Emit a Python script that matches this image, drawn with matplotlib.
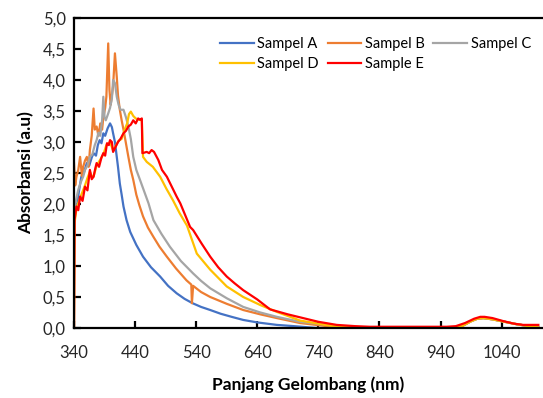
import matplotlib
matplotlib.use("Agg")
import matplotlib.pyplot as plt
from matplotlib.ticker import FuncFormatter

plt.rcParams['font.family'] = ['Lato', 'DejaVu Sans']

# wavelength (nm) / absorbance readings per sample
wl_a = [340, 344, 348, 352, 356, 361, 365, 369, 372, 376, 379, 382, 385, 388, 391, 395, 399, 402, 404, 407,
        410, 412, 415, 418, 421, 426, 432, 442, 453, 466, 481, 494, 508, 521, 534, 548, 563, 580, 598, 617,
        640, 672, 700, 737, 800, 900, 960, 975, 990, 1000, 1010, 1025, 1045, 1065, 1085, 1100]
abs_a = [1.95, 1.90, 2.20, 2.44, 2.50, 2.66, 2.62, 2.75, 2.82, 2.78, 2.95, 3.03, 2.98, 3.14, 3.10, 3.22, 3.30, 3.24, 3.14, 3.00,
         2.76, 2.60, 2.33, 2.15, 1.96, 1.74, 1.55, 1.34, 1.15, 0.98, 0.83, 0.68, 0.56, 0.47, 0.40, 0.34, 0.29, 0.23, 0.18, 0.13,
         0.09, 0.05, 0.03, 0.0, 0.0, 0.0, 0.0, 0.03, 0.11, 0.15, 0.16, 0.14, 0.10, 0.06, 0.03, 0.01]

wl_b = [340, 342, 344, 347, 350, 353, 355, 358, 361, 364, 366, 369, 372, 374, 377, 380, 383, 386, 388, 391,
        393, 396, 398, 400, 402, 404, 407, 410, 412, 415, 418, 421, 425, 429, 433, 437, 442, 447, 453, 461,
        470, 480, 492, 507, 524, 532, 533, 535, 548, 563, 590, 617, 645, 672, 710, 780, 900, 960, 975, 990,
        1000, 1010, 1025, 1045, 1065, 1085, 1100]
abs_b = [2.66, 2.30, 2.44, 2.55, 2.76, 2.45, 2.60, 2.70, 2.76, 2.60, 2.87, 3.10, 3.54, 3.20, 3.25, 3.10, 3.30, 3.20, 3.40, 3.55,
         3.73, 4.59, 3.84, 3.60, 3.75, 3.90, 4.43, 4.05, 3.75, 3.52, 3.35, 3.20, 2.98, 2.76, 2.55, 2.39, 2.15, 1.98, 1.80, 1.62,
         1.47, 1.31, 1.15, 0.96, 0.77, 0.70, 0.40, 0.68, 0.58, 0.50, 0.39, 0.29, 0.22, 0.16, 0.08, 0.0, 0.0, 0.0, 0.03, 0.11,
         0.15, 0.16, 0.14, 0.10, 0.06, 0.03, 0.01]

wl_c = [340, 343, 347, 351, 355, 358, 362, 366, 370, 374, 377, 380, 383, 386, 388, 390, 392, 396, 399, 402,
        404, 407, 410, 413, 416, 421, 425, 429, 433, 437, 442, 448, 455, 462, 470, 483, 497, 515, 535, 548,
        563, 590, 617, 645, 672, 710, 800, 900, 960, 975, 990, 1000, 1010, 1025, 1045, 1065, 1085, 1100]
abs_c = [1.85, 2.05, 2.23, 2.35, 2.44, 2.55, 2.62, 2.76, 2.80, 2.95, 3.03, 3.15, 3.10, 3.35, 3.73, 3.40, 3.35, 3.46, 3.55, 3.70,
         4.00, 3.95, 3.73, 3.60, 3.52, 3.52, 3.40, 3.25, 3.05, 2.76, 2.55, 2.39, 2.20, 2.01, 1.74, 1.52, 1.31, 1.08, 0.88, 0.76,
         0.64, 0.48, 0.34, 0.25, 0.18, 0.10, 0.0, 0.0, 0.0, 0.03, 0.11, 0.15, 0.16, 0.14, 0.10, 0.06, 0.03, 0.01]

wl_d = [340, 341, 344, 350, 354, 358, 362, 366, 369, 372, 377, 382, 388, 393, 399, 404, 409, 413, 418, 423,
        427, 430, 433, 437, 441, 446, 451, 453, 459, 469, 481, 491, 502, 513, 525, 541, 563, 590, 617, 645,
        672, 710, 764, 850, 960, 975, 990, 1000, 1010, 1025, 1045, 1065, 1085, 1100]
abs_d = [0.0, 1.70, 1.92, 2.10, 2.20, 2.30, 2.42, 2.52, 2.45, 2.44, 2.62, 2.70, 2.80, 2.95, 3.00, 2.86, 2.95, 3.02, 3.05, 3.20,
         3.30, 3.45, 3.49, 3.42, 3.38, 3.36, 3.35, 2.76, 2.68, 2.60, 2.44, 2.25, 2.06, 1.85, 1.65, 1.20, 0.94, 0.67, 0.50, 0.37,
         0.26, 0.12, 0.03, 0.0, 0.0, 0.03, 0.11, 0.15, 0.16, 0.14, 0.10, 0.06, 0.03, 0.01]

wl_e = [340, 341, 344, 347, 350, 354, 358, 362, 366, 369, 372, 375, 377, 381, 385, 388, 391, 394, 397, 399,
        402, 404, 408, 412, 416, 421, 425, 429, 433, 437, 441, 445, 448, 451, 452, 459, 463, 467, 471, 478,
        484, 492, 500, 508, 514, 522, 530, 535, 549, 563, 576, 590, 603, 617, 640, 661, 690, 715, 740, 770,
        800, 824, 870, 920, 950, 965, 980, 995, 1005, 1012, 1025, 1043, 1060, 1075, 1100]
abs_e = [0.0, 1.75, 1.96, 1.90, 2.12, 2.05, 2.28, 2.22, 2.55, 2.40, 2.44, 2.58, 2.66, 2.60, 2.75, 2.82, 2.78, 2.98, 2.95, 3.03,
         3.00, 2.84, 2.92, 3.00, 3.05, 3.14, 3.18, 3.25, 3.28, 3.35, 3.30, 3.38, 3.36, 3.38, 2.82, 2.84, 2.82, 2.87, 2.84, 2.71,
         2.55, 2.44, 2.28, 2.12, 2.01, 1.82, 1.63, 1.58, 1.36, 1.15, 0.98, 0.83, 0.72, 0.61, 0.46, 0.30, 0.22, 0.16, 0.10, 0.05,
         0.03, 0.02, 0.02, 0.02, 0.02, 0.03, 0.08, 0.15, 0.18, 0.18, 0.16, 0.11, 0.07, 0.05, 0.05]

labels = ['Sampel A', 'Sampel B', 'Sampel C', 'Sampel D', 'Sample E']
colors = ['#4472C4', '#ED7D31', '#A5A5A5', '#FFC000', '#FF0000']
series = [(wl_a, abs_a), (wl_b, abs_b), (wl_c, abs_c), (wl_d, abs_d), (wl_e, abs_e)]

fig = plt.figure(figsize=(5.43, 3.98), dpi=100)
ax = fig.add_axes([74 / 543, 1 - 328 / 398, 468 / 543, 310 / 398])

lines = []
for (x, y), lab, col in zip(series, labels, colors):
    ln, = ax.plot(x, y, color=col, linewidth=1.6, label=lab, solid_joinstyle='round')
    lines.append(ln)

ax.set_xlim(340, 1106)
ax.set_ylim(0, 5)
ax.set_xticks(range(340, 1041, 100))
ax.set_yticks([i * 0.5 for i in range(11)])
ax.yaxis.set_major_formatter(FuncFormatter(lambda v, p: f"{v:.1f}".replace('.', ',')))

ax.spines['right'].set_visible(False)
for s in ['left', 'bottom', 'top']:
    ax.spines[s].set_linewidth(1.6)
    ax.spines[s].set_color('black')
ax.tick_params(axis='both', direction='in', length=5, width=1.6, labelsize=12, colors='black',
               labelcolor='#262626', pad=6)
ax.tick_params(axis='x', pad=12)

ax.set_xlabel('Panjang Gelombang (nm)', fontsize=12.5, fontweight='bold', labelpad=11)
ax.set_ylabel('Absorbansi (a.u)', fontsize=12.5, fontweight='bold', labelpad=6)

# legend filled row by row like the original: A B C / D E
order = [0, 3, 1, 4, 2]
ax.legend([lines[i] for i in order], [labels[i] for i in order], ncol=3, frameon=False,
          loc='upper left', bbox_to_anchor=(220 / 543, 1 - 37 / 398), bbox_transform=fig.transFigure,
          fontsize=10.5, handlelength=2.3, handletextpad=0.25, columnspacing=0.6,
          labelspacing=0.4, borderpad=0, borderaxespad=0)

fig.savefig('out.png', dpi=100)
